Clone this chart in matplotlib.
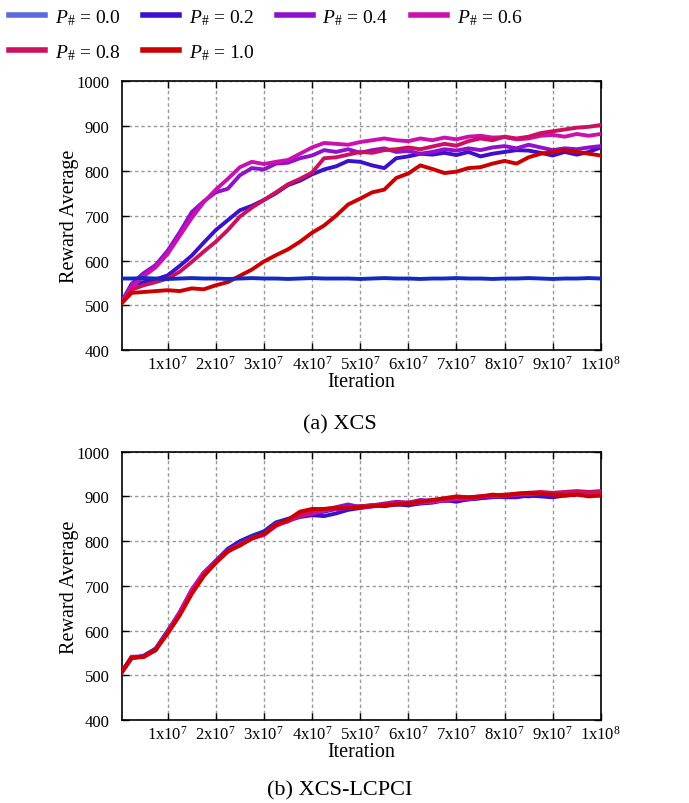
import numpy as np
import matplotlib
matplotlib.use("Agg")
import matplotlib.pyplot as plt
from matplotlib.lines import Line2D

plt.rcParams['font.family'] = ['Liberation Serif', 'DejaVu Serif']
plt.rcParams['mathtext.fontset'] = 'custom'
plt.rcParams['mathtext.rm'] = 'Liberation Serif'
plt.rcParams['mathtext.it'] = 'Liberation Serif:italic'

# iteration axis, one sample every 2.5 million iterations
iterations = np.arange(41) * 2.5e6

p_labels = ["0.0", "0.2", "0.4", "0.6", "0.8", "1.0"]
line_colors = ["#1428c4", "#3c10cc", "#9010cc", "#cc10b0", "#cc1060", "#cc0000"]
legend_colors = ["#5b6bdc", "#3c10cc", "#9010cc", "#cc10b0", "#cc1060", "#cc0000"]

x_ticks = [1e7, 2e7, 3e7, 4e7, 5e7, 6e7, 7e7, 8e7, 9e7, 1e8]
x_tick_labels = ["1x10$^{7}$", "2x10$^{7}$", "3x10$^{7}$", "4x10$^{7}$", "5x10$^{7}$",
                 "6x10$^{7}$", "7x10$^{7}$", "8x10$^{7}$", "9x10$^{7}$", "1x10$^{8}$"]
y_ticks = [400, 500, 600, 700, 800, 900, 1000]

# (a) XCS
xcs_p00 = [560, 560, 561, 560, 559, 560, 561, 560, 560, 559, 560, 561, 560, 560, 559, 560,
           561, 560, 560, 560, 559, 560, 561, 560, 560, 559, 560, 560, 561, 560, 560, 559,
           560, 560, 561, 560, 559, 560, 560, 561, 560]
xcs_p02 = [500, 545, 552, 558, 567, 588, 611, 640, 668, 690, 712, 722, 735, 750, 768, 778,
           792, 803, 810, 822, 820, 812, 806, 828, 832, 838, 836, 840, 835, 842, 832, 838,
           842, 846, 845, 840, 834, 842, 836, 842, 852]
xcs_p04 = [500, 548, 572, 590, 622, 663, 708, 732, 752, 760, 790, 806, 803, 816, 818, 828,
           834, 846, 842, 848, 840, 846, 850, 842, 844, 838, 842, 848, 845, 850, 846, 852,
           855, 850, 858, 852, 846, 850, 848, 852, 855]
xcs_p06 = [500, 540, 565, 585, 615, 655, 695, 730, 758, 782, 808, 820, 815, 820, 824, 838,
           852, 862, 860, 858, 864, 868, 872, 868, 866, 872, 868, 874, 870, 876, 878, 874,
           875, 870, 872, 878, 880, 876, 882, 878, 882]
xcs_p08 = [500, 535, 545, 552, 560, 575, 597, 620, 642, 668, 698, 718, 735, 752, 770, 782,
           796, 828, 830, 836, 842, 840, 846, 848, 852, 848, 854, 860, 856, 866, 872, 868,
           876, 872, 876, 884, 888, 892, 896, 898, 902]
xcs_p10 = [500, 528, 530, 532, 534, 532, 538, 536, 545, 552, 566, 580, 598, 612, 625, 642,
           662, 678, 700, 725, 738, 752, 758, 784, 794, 812, 804, 795, 798, 806, 808, 816,
           822, 816, 830, 838, 842, 846, 842, 838, 834]

# (b) XCS-LCPCI
lcp_p00 = [500, 538, 544, 560, 600, 640, 690, 728, 756, 783, 800, 812, 822, 842, 850, 856,
           860, 866, 872, 874, 878, 880, 878, 882, 884, 886, 888, 890, 892, 893, 896, 898,
           900, 902, 900, 904, 902, 904, 906, 906, 908]
lcp_p02 = [500, 540, 542, 556, 598, 638, 686, 724, 752, 782, 796, 808, 818, 838, 846, 854,
           858, 856, 862, 870, 874, 878, 880, 882, 880, 884, 886, 892, 888, 894, 896, 900,
           898, 898, 902, 900, 898, 902, 904, 906, 904]
lcp_p04 = [500, 541, 543, 559, 595, 640, 690, 730, 756, 780, 794, 808, 814, 836, 844, 858,
           866, 870, 876, 882, 876, 880, 884, 888, 886, 892, 890, 890, 896, 894, 898, 902,
           900, 904, 904, 906, 904, 902, 908, 906, 906]
lcp_p06 = [500, 542, 541, 558, 598, 642, 692, 730, 752, 776, 792, 806, 814, 834, 846, 856,
           862, 868, 872, 874, 876, 878, 880, 884, 886, 886, 888, 892, 894, 896, 900, 900,
           902, 904, 906, 908, 906, 908, 910, 908, 910]
lcp_p08 = [500, 539, 541, 557, 594, 636, 684, 724, 752, 778, 792, 806, 816, 838, 845, 858,
           866, 872, 874, 876, 878, 880, 882, 886, 886, 888, 892, 894, 898, 898, 900, 902,
           904, 906, 908, 910, 908, 910, 912, 910, 912]
lcp_p10 = [500, 540, 542, 558, 594, 634, 682, 722, 752, 778, 790, 806, 816, 836, 848, 866,
           872, 872, 874, 874, 876, 878, 880, 882, 884, 888, 892, 896, 900, 898, 900, 904,
           902, 906, 908, 906, 904, 902, 904, 900, 902]

xcs_series = [xcs_p00, xcs_p02, xcs_p04, xcs_p06, xcs_p08, xcs_p10]
lcp_series = [lcp_p00, lcp_p02, lcp_p04, lcp_p06, lcp_p08, lcp_p10]


def style_axes(ax):
    ax.set_xlim(5e5, 1e8)
    ax.set_ylim(400, 1000)
    ax.set_xticks(x_ticks)
    ax.set_xticklabels(x_tick_labels)
    ax.set_yticks(y_ticks)
    ax.tick_params(direction='in', length=5, width=1, top=True, right=True,
                   labelsize=12, pad=3)
    ax.tick_params(axis='y', pad=9)
    ax.grid(True, color='#9a9a9a', linestyle=(0, (2.5, 2)), linewidth=1.0)
    for sp in ax.spines.values():
        sp.set_linewidth(1.2)
    ax.set_xlabel("Iteration", fontsize=14.5, labelpad=0)
    ax.set_ylabel("Reward Average", fontsize=14.5, labelpad=-2)


fig = plt.figure(figsize=(6.89, 8.04), dpi=100)
ax1 = fig.add_axes([0.177, 0.563, 0.695, 0.335])
ax2 = fig.add_axes([0.177, 0.103, 0.695, 0.334])

for i, ys in enumerate(xcs_series):
    z = 10 if i == 0 else 3 + i
    ax1.plot(iterations, ys, color=line_colors[i], lw=2.8, zorder=z,
             solid_joinstyle='round')
for i, ys in enumerate(lcp_series):
    ax2.plot(iterations, ys, color=line_colors[i], lw=2.8, zorder=3 + i,
             solid_joinstyle='round')

style_axes(ax1)
style_axes(ax2)

fig.text(0.493, 0.472, "(a) XCS", ha='center', va='center', fontsize=16)
fig.text(0.493, 0.016, "(b) XCS-LCPCI", ha='center', va='center', fontsize=16)

# legend filled row by row: 0.0 0.2 0.4 0.6 / 0.8 1.0
order = [0, 4, 1, 5, 2, 3]
handles = [Line2D([], [], color=legend_colors[k], lw=4) for k in order]
labels = ["$P_{\\#}$ = " + p_labels[k] for k in order]
fig.legend(handles, labels, ncol=4, loc='upper left', bbox_to_anchor=(-0.012, 1.012),
           frameon=False, fontsize=14, handlelength=1.85, handletextpad=0.5,
           columnspacing=1.15, labelspacing=0.8)

fig.savefig("out.png", dpi=100)
